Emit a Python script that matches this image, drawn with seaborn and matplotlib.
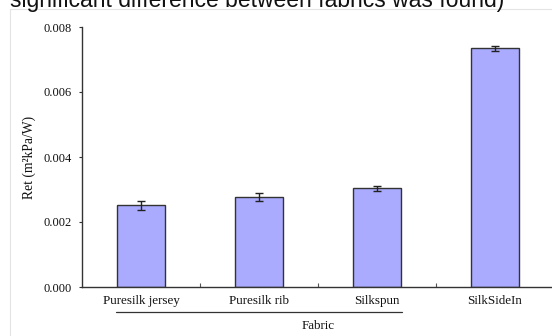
import matplotlib
matplotlib.use("Agg")
import matplotlib.pyplot as plt
import seaborn as sns
import pandas as pd
from matplotlib.patches import Rectangle

# Water-vapour resistance per fabric (mean and error)
fabrics = ["Puresilk jersey", "Puresilk rib", "Silkspun", "SilkSideIn"]
ret_mean = [0.00252, 0.00277, 0.00304, 0.00734]
ret_err = [0.00014, 0.00012, 0.00008, 0.00009]
y_ticks = [0.000, 0.002, 0.004, 0.006, 0.008]

sns.set_theme(style="white")
plt.rcParams["font.family"] = ["Liberation Serif", "DejaVu Serif"]

df = pd.DataFrame({"Fabric": fabrics, "Ret": ret_mean})

fig = plt.figure(figsize=(5.52, 3.36), dpi=100)
W, H = 552, 336
ax = fig.add_axes([82 / W, 1 - 287 / H, (554 - 82) / W, (287 - 27) / H])

# Light frame around the chart panel
fig.patches.append(Rectangle((10 / W, -0.1), 1.2, 1 - 9 / H + 0.1,
                             transform=fig.transFigure, fill=False,
                             edgecolor="#e4e4e4", linewidth=0.8))

# Caption tail from the surrounding text
fig.text(10 / W, 1 - 7 / H, "significant difference between fabrics was found)",
         family=["Liberation Sans", "DejaVu Sans"], fontsize=16.5,
         va="baseline", ha="left", color="#111111")

sns.barplot(data=df, x="Fabric", y="Ret", ax=ax, width=0.4,
            color="#aaaaff", edgecolor="#333333", linewidth=1.0,
            saturation=1, errorbar=None)
ax.errorbar(range(len(fabrics)), ret_mean, yerr=ret_err, fmt="none",
            ecolor="#222222", elinewidth=1.0, capsize=3, capthick=1.0)

ax.set_xlim(-0.5, 3.5)
ax.set_ylim(0, 0.008)
ax.set_yticks(y_ticks)
ax.set_yticklabels([f"{v:.3f}" for v in y_ticks], fontsize=9, color="#111111")
ax.tick_params(axis="y", direction="out", length=2.5, width=0.8,
               color="#333333", pad=5, left=True)
ax.tick_params(axis="x", which="major", length=0, pad=6, labelsize=9.4,
               labelcolor="#111111")
ax.set_xticks([0.5, 1.5, 2.5], minor=True)
ax.tick_params(axis="x", which="minor", direction="in", length=3,
               width=0.8, color="#555555", bottom=True)

ax.set_xlabel("Fabric", fontsize=9.4, labelpad=9, color="#111111")
ax.set_ylabel("Ret (m²kPa/W)", fontsize=9.8, labelpad=5, color="#111111")

for side in ("top", "right"):
    ax.spines[side].set_visible(False)
for side in ("left", "bottom"):
    ax.spines[side].set_color("#333333")
    ax.spines[side].set_linewidth(1.0)

# Grouping rule under the first three labels
ax.plot([-0.216, 2.216], [-0.095, -0.095], color="#333333", linewidth=0.9,
        transform=ax.get_xaxis_transform(), clip_on=False)

ax.set_facecolor("none")
fig.patch.set_facecolor("white")
fig.savefig("out.png", dpi=100)
